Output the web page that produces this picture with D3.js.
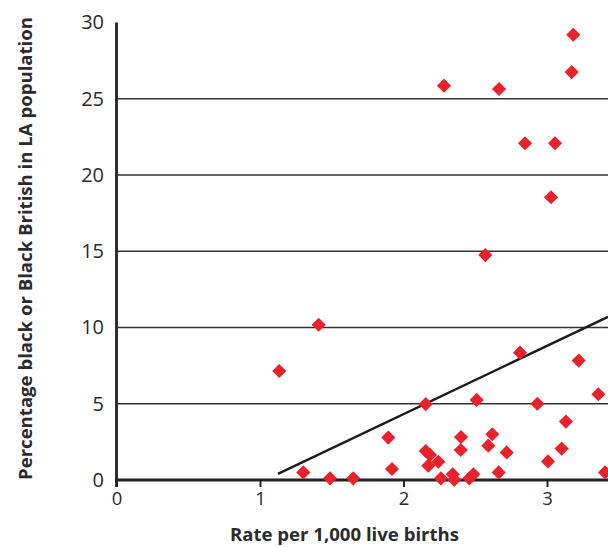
<!DOCTYPE html>
<html>
<head>
<meta charset="utf-8">
<script src="https://cdn.jsdelivr.net/npm/d3@7"></script>
<style>
  html, body { margin: 0; padding: 0; background: #fff; }
  svg { display: block; }
  text { font-family: "Open Sans", "DejaVu Sans", sans-serif; fill: #2b2b2b; }
</style>
</head>
<body>
<svg id="chart" width="608" height="547"></svg>
<script>
// Data: rate per 1,000 live births (x) vs percentage black or Black British (y)
const rates = [1.134, 1.409, 1.302, 1.488, 1.650, 1.894, 1.920, 2.155, 2.155, 2.185,
               2.173, 2.243, 2.261, 2.343, 2.354, 2.401, 2.399, 2.459, 2.487, 2.510,
               2.619, 2.591, 2.663, 2.719, 2.812, 2.933, 3.007, 3.102, 3.132, 3.221,
               3.358, 3.404, 3.183, 3.172, 2.282, 2.666, 2.847, 3.056, 3.028, 2.570];
const percentages = [7.15, 10.18, 0.50, 0.11, 0.11, 2.78, 0.72, 4.98, 1.90, 1.64,
                     0.94, 1.20, 0.11, 0.37, 0.02, 2.82, 1.97, 0.11, 0.37, 5.25,
                     3.00, 2.25, 0.50, 1.81, 8.35, 5.00, 1.22, 2.06, 3.83, 7.83,
                     5.62, 0.50, 29.2, 26.75, 25.86, 25.64, 22.08, 22.08, 18.54, 14.75];
const trendX = [1.125, 3.425];
const trendY = [0.4, 10.7];
const xTicks = [0, 1, 2, 3];
const yTicks = [0, 5, 10, 15, 20, 25, 30];
const xTitle = "Rate per 1,000 live births";
const yTitle = "Percentage black or Black British in LA population";

const svg = d3.select("#chart");
const x = d3.scaleLinear().domain([0, 3.425]).range([116.5, 608]);
const y = d3.scaleLinear().domain([0, 30]).range([480, 22.5]);

// Gridlines (excluding 0 and 30)
svg.append("g").selectAll("line")
  .data(yTicks.filter(t => t > 0 && t < 30))
  .join("line")
  .attr("x1", x(0)).attr("x2", 608)
  .attr("y1", d => y(d)).attr("y2", d => y(d))
  .attr("stroke", "#333").attr("stroke-width", 1.4);

// Y axis
const yAxis = svg.append("g").attr("transform", `translate(${x(0)},0)`)
  .call(d3.axisLeft(y).tickValues(yTicks).tickSize(0).tickPadding(12.5));
yAxis.select(".domain").remove();
yAxis.selectAll("text").attr("font-size", 20).style("font-family", "'Open Sans', sans-serif").attr("fill", "#2b2b2b");
svg.append("line")
  .attr("x1", x(0)).attr("x2", x(0))
  .attr("y1", y(30)).attr("y2", y(0) + 7)
  .attr("stroke", "#222").attr("stroke-width", 2.8);

// X axis
const xAxis = svg.append("g").attr("transform", `translate(0,${y(0)})`)
  .call(d3.axisBottom(x).tickValues(xTicks).tickFormat(d3.format("d")).tickSize(7).tickPadding(5));
xAxis.select(".domain").remove();
xAxis.selectAll("line").attr("stroke", "#222").attr("stroke-width", 2);
xAxis.selectAll("text").attr("font-size", 18.5).style("font-family", "'Open Sans', sans-serif").attr("fill", "#2b2b2b");
svg.append("line")
  .attr("x1", x(0) - 1.4).attr("x2", 608)
  .attr("y1", y(0)).attr("y2", y(0))
  .attr("stroke", "#222").attr("stroke-width", 2.8);

// Trend line
svg.append("line")
  .attr("x1", x(trendX[0])).attr("y1", y(trendY[0]))
  .attr("x2", x(trendX[1])).attr("y2", y(trendY[1]))
  .attr("stroke", "#1a1a1a").attr("stroke-width", 2.4);

// Points
const pts = rates.map((r, i) => ({ r, p: percentages[i] }));
const sym = d3.symbol().type(d3.symbolSquare).size(100);
svg.append("g").selectAll("path")
  .data(pts)
  .join("path")
  .attr("d", sym)
  .attr("transform", d => `translate(${x(d.r)},${y(d.p)}) rotate(45)`)
  .attr("fill", "#e8212a");

// Axis titles
svg.append("text")
  .attr("x", 344.5).attr("y", 541)
  .attr("text-anchor", "middle")
  .attr("font-size", 18.5).attr("font-weight", "bold")
  .attr("textLength", 229).attr("lengthAdjust", "spacingAndGlyphs")
  .text(xTitle);

svg.append("text")
  .attr("transform", "translate(32,248.5) rotate(-90)")
  .attr("text-anchor", "middle")
  .attr("font-size", 18.5).attr("font-weight", "bold")
  .attr("textLength", 463).attr("lengthAdjust", "spacingAndGlyphs")
  .text(yTitle);
</script>
</body>
</html>
